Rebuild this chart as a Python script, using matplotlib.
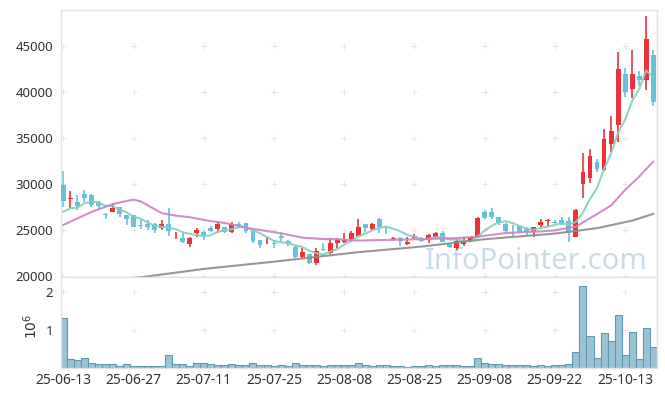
import matplotlib
matplotlib.use("Agg")
import matplotlib.pyplot as plt
import numpy as np
import pandas as pd

# ---------------- data ----------------
opens = [29900, 28400, 28050, 28900, 28800, 28050, 26650, 27000, 27470, 26630,
         26630, 25450, 25620, 25620, 25190, 25620, 24400, 24160, 23480, 24700,
         24810, 25250, 25110, 25290, 24750, 25560, 25730, 24920, 23910, 23430,
         23470, 24380, 23800, 23180, 22100, 22360, 21450, 22840, 22470, 23550,
         23660, 23990, 24380, 25620, 25110, 26200, 25310, 24050, 24100, 23450,
         24160, 24160, 23910, 24270, 24640, 23450, 23010, 23480, 23840, 24270,
         26990, 26990, 26380, 25650, 25310, 25430, 25080, 24810, 25540, 25950,
         25850, 26090, 26010, 24270, 29970, 30690, 32350, 31520, 34350, 36410,
         41960, 40290, 41740, 41300, 44020]
highs = [31400, 29240, 28800, 29350, 28850, 28150, 26880, 27900, 27500, 26650,
         26650, 26090, 26090, 25700, 26090, 27420, 24820, 24820, 24200, 25250,
         24850, 25470, 25840, 25350, 25840, 25840, 25750, 24950, 23950, 24270,
         23910, 24820, 23950, 23200, 23010, 22400, 23010, 23550, 24100, 24160,
         24640, 24890, 26200, 25650, 25750, 26270, 25470, 24270, 24200, 24200,
         24530, 24200, 24530, 24750, 24890, 23500, 24000, 24200, 24380, 26350,
         27170, 27420, 26400, 25700, 25540, 25450, 25300, 25300, 26200, 26160,
         26090, 26380, 26380, 27250, 33340, 33770, 32720, 35950, 37390, 44320,
         42580, 44570, 42280, 48260, 44570]
lows = [27500, 27360, 27170, 28080, 27500, 27170, 26160, 26990, 26450, 25540,
        25300, 25110, 25000, 24640, 25000, 24350, 24020, 23550, 23180, 24270,
        23910, 24810, 24640, 24700, 24700, 25190, 24640, 23620, 23080, 23430,
        23080, 23730, 23300, 21920, 21920, 21270, 21200, 22720, 22360, 23080,
        23550, 23730, 24300, 24810, 25000, 24640, 24530, 23800, 23300, 23370,
        24000, 23730, 23550, 24100, 23650, 22990, 22800, 23200, 23800, 24100,
        26200, 26200, 25540, 24810, 24380, 24640, 24450, 24270, 25300, 25470,
        25540, 25540, 23730, 24200, 28450, 30080, 31340, 31450, 33510, 34600,
        39420, 39310, 40650, 40220, 38510]
closes = [28100, 28500, 27600, 28500, 27700, 27650, 26600, 27420, 26740, 26160,
          25360, 25400, 25330, 25000, 25650, 24920, 24500, 23660, 24100, 25000,
          24380, 24920, 25650, 24820, 25620, 25520, 24890, 23840, 23370, 23460,
          23440, 24160, 23450, 22100, 22640, 21380, 22750, 22800, 23620, 23990,
          23910, 24640, 25290, 25250, 25650, 25290, 25270, 24150, 23840, 23730,
          24380, 23800, 24460, 24640, 23730, 23120, 23840, 23840, 24270, 26340,
          26340, 26400, 25730, 24920, 25270, 24810, 24810, 25290, 25840, 26000,
          25800, 25650, 24640, 27170, 31270, 33080, 31590, 34890, 35760, 42500,
          40030, 41960, 41300, 45760, 38950]
volumes_m = [1.31, 0.22, 0.20, 0.24, 0.11, 0.08, 0.08, 0.08, 0.05, 0.08,
             0.05, 0.05, 0.05, 0.05, 0.05, 0.32, 0.08, 0.08, 0.05, 0.11,
             0.11, 0.085, 0.06, 0.06, 0.085, 0.06, 0.06, 0.11, 0.06, 0.06,
             0.03, 0.06, 0.03, 0.11, 0.06, 0.06, 0.06, 0.03, 0.06, 0.06,
             0.06, 0.06, 0.13, 0.06, 0.03, 0.06, 0.06, 0.03, 0.03, 0.01,
             0.03, 0.03, 0.06, 0.03, 0.06, 0.06, 0.06, 0.03, 0.03, 0.25,
             0.11, 0.085, 0.085, 0.06, 0.06, 0.06, 0.06, 0.03, 0.06, 0.03,
             0.06, 0.06, 0.085, 0.40, 2.17, 0.83, 0.25, 0.92, 0.71, 1.40,
             0.33, 0.95, 0.23, 1.05, 0.54]

# moving-average values
ma5_head = [26990, 27360, 27420, 27900]
ma20_idx = [0, 2, 4, 7, 9, 10, 11, 13, 14, 16, 18, 21, 23, 25, 27, 30, 32, 34,
            37, 39, 42, 46, 51, 56, 59, 63, 68, 70, 73, 75, 78, 80, 82, 84]
ma20_val = [25540, 26250, 26950, 27800, 28150, 28290, 28100, 27250, 26820, 26550,
            26380, 25950, 25750, 25430, 25100, 24760, 24480, 24160, 24010, 23990,
            23840, 23910, 23990, 24110, 24270, 24660, 24840, 24950, 25360, 26270,
            27650, 29350, 30790, 32420]
ma60_idx = [10, 20, 30, 42, 51, 60, 70, 76, 81, 84]
ma60_val = [19750, 20760, 21550, 22580, 23190, 23990, 24600, 25190, 26010, 26740]

xtick_pos = [0, 10, 20, 30, 40, 50, 60, 70, 80]
xtick_labels = ['25-06-13', '25-06-27', '25-07-11', '25-07-25', '25-08-08',
                '25-08-25', '25-09-08', '25-09-22', '25-10-13']
ytick_main = [20000, 25000, 30000, 35000, 40000, 45000]
ytick_vol = [1, 2]

# ---------------- style ----------------
UP = '#ec3238'
DOWN = '#66c1d9'
FONT = 'Noto Sans'
TXT = '#333333'
SPINE = '#e3e3e3'
GRID = '#e6e6e6'

fig = plt.figure(figsize=(6.65, 3.96), dpi=100)
W, H = 665, 396
L, R = 61.3, 656.7
T_main, B_main, B_vol = 10, 277.3, 367.5
ax = fig.add_axes([L / W, 1 - B_main / H, (R - L) / W, (B_main - T_main) / H])
axv = fig.add_axes([L / W, 1 - B_vol / H, (R - L) / W, (B_vol - B_main) / H], sharex=ax)

n = len(closes)
x = np.arange(n)
o = np.array(opens, float)
c = np.array(closes, float)
h = np.array(highs, float)
lo = np.array(lows, float)
up = c >= o
cols = np.where(up, UP, DOWN)

# wicks
ax.vlines(x, lo, h, colors=cols, linewidth=1.2, zorder=2)
# bodies
bottom = np.minimum(o, c)
height = np.maximum(np.abs(c - o), 90)
ax.bar(x, height, bottom=bottom, width=0.7, color=cols, linewidth=0, zorder=3)

# moving averages
ma5 = pd.Series(closes, dtype=float).rolling(5).mean().to_numpy()
ma5[:len(ma5_head)] = ma5_head
ax.plot(x, ma5, color='#86cfc0', linewidth=1.5, alpha=0.9, zorder=4)
ax.plot(ma20_idx, ma20_val, color='#cb84c3', linewidth=1.5, alpha=0.9, zorder=4)
ax.plot(ma60_idx, ma60_val, color='#8c8c8c', linewidth=1.5, alpha=0.9, zorder=4)

# grid as plus markers
gx, gy = np.meshgrid(xtick_pos, ytick_main)
ax.scatter(gx.ravel(), gy.ravel(), marker='+', s=14, color=GRID, linewidths=0.7, zorder=0)
gx2, gy2 = np.meshgrid(xtick_pos, ytick_vol)
axv.scatter(gx2.ravel(), gy2.ravel(), marker='+', s=14, color=GRID, linewidths=0.7, zorder=0)

# watermark
ax.text(0.985, 0.03, 'InfoPointer.com', transform=ax.transAxes, ha='right',
        va='baseline', fontsize=21, color='#c9dde8', family=FONT, zorder=1)

ax.set_xlim(-0.3, 84.5)
ax.set_ylim(19850, 48900)
ax.set_yticks(ytick_main)
ax.set_yticklabels([str(v) for v in ytick_main])
plt.setp(ax.get_xticklabels(), visible=False)

# volume
axv.bar(x, volumes_m, width=1.0, color='#9ac3d5', edgecolor='#6398b2', linewidth=0.8, zorder=2)
axv.set_ylim(0, 2.405)
axv.set_yticks(ytick_vol)
axv.set_yticklabels(['1', '2'])
axv.set_xticks(xtick_pos)
axv.set_xticklabels(xtick_labels)

for a in (ax, axv):
    for s in a.spines.values():
        s.set_color(SPINE)
        s.set_linewidth(1.0)
    a.tick_params(length=0, colors=TXT, labelsize=9.5, pad=6)
    for lab in a.get_yticklabels() + a.get_xticklabels():
        lab.set_family(FONT)
axv.tick_params(axis='x', labelsize=10, pad=4)

fig.text(32 / W, 1 - 326 / H, r'$10^{6}$', rotation=90, ha='center', va='center',
         fontsize=10, color=TXT, family=FONT)

fig.savefig('out.png', dpi=100, facecolor='white')
